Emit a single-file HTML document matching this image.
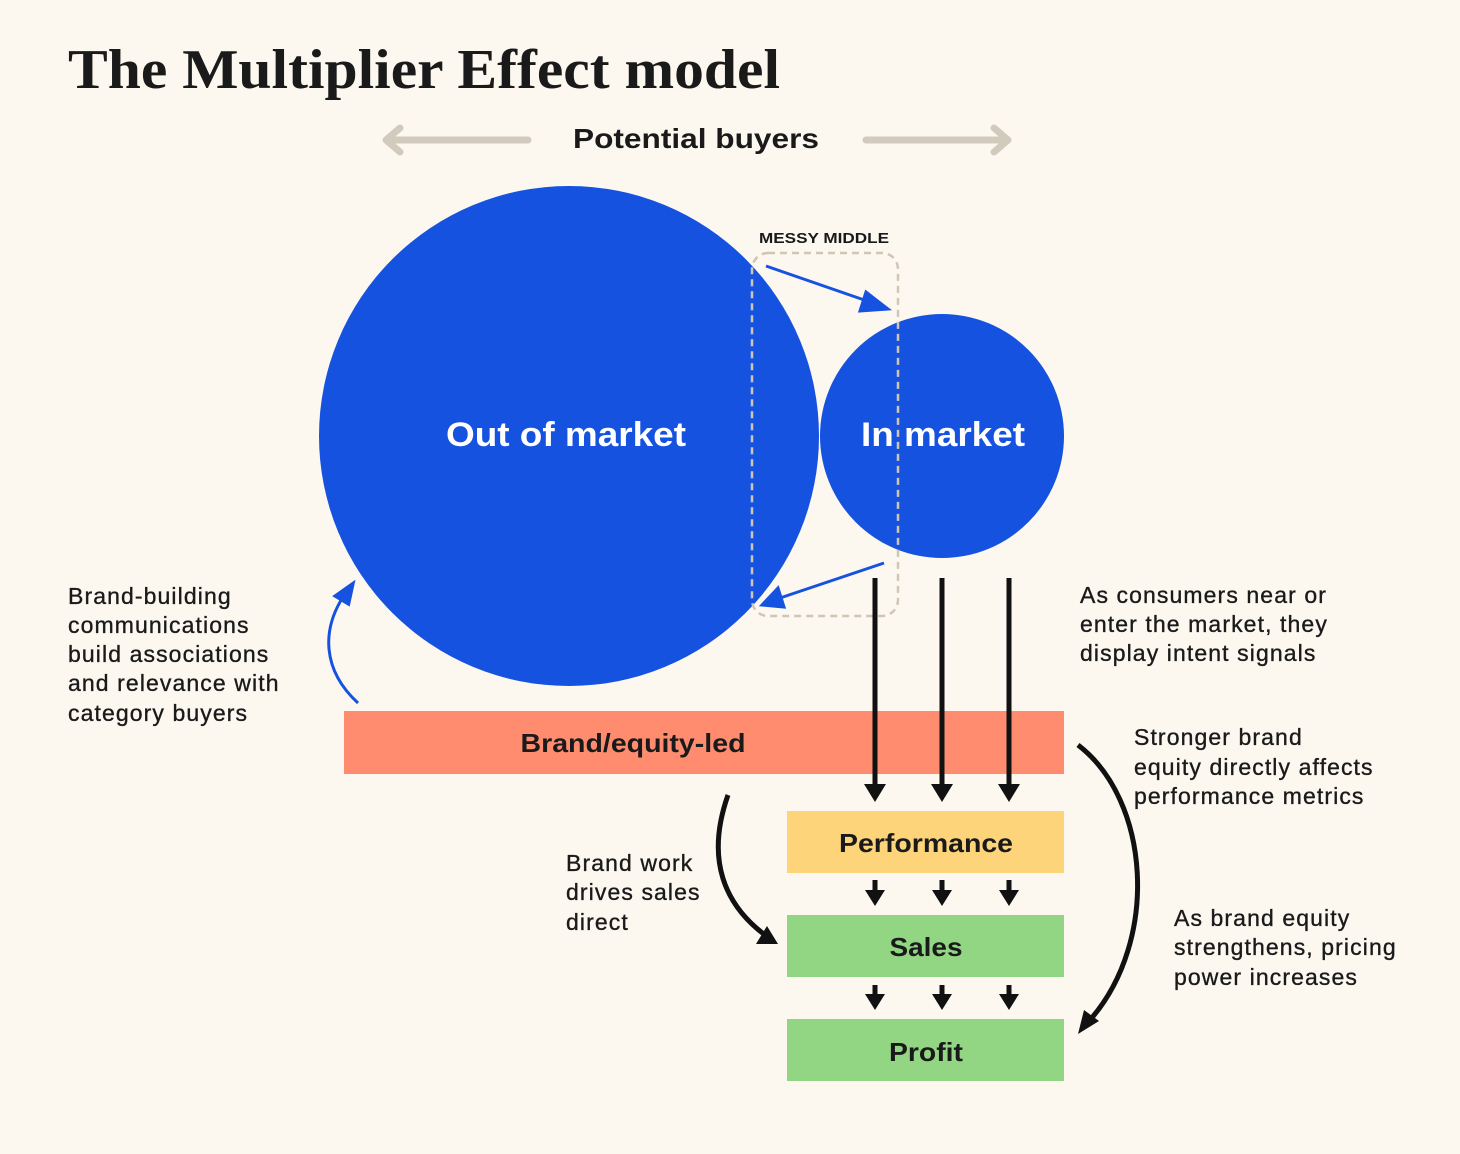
<!DOCTYPE html>
<html><head><meta charset="utf-8"><style>
html,body{margin:0;padding:0;background:#fcf8f0;}
svg{display:block}
text{font-family:"Liberation Sans",sans-serif;fill:#1a1a1a}
.t{letter-spacing:1.1px;stroke:#1a1a1a;stroke-width:0.35px}
</style></head><body>
<svg width="1460" height="1154" viewBox="0 0 1460 1154" xmlns="http://www.w3.org/2000/svg">
<rect width="1460" height="1154" fill="#fcf8f0"/>
<text x="68" y="88" font-size="56" font-weight="bold" textLength="712" lengthAdjust="spacingAndGlyphs" style="font-family:'Liberation Serif',serif">The Multiplier Effect model</text>
<g stroke="#d2cbbd" stroke-width="7" fill="none" stroke-linecap="round" stroke-linejoin="round">
<line x1="388" y1="140" x2="528" y2="140"/><polyline points="400,128 386,140 400,152"/>
<line x1="866" y1="140" x2="1006" y2="140"/><polyline points="994,128 1008,140 994,152"/>
</g>
<text x="696" y="148" font-size="28" font-weight="bold" text-anchor="middle" textLength="246" lengthAdjust="spacingAndGlyphs">Potential buyers</text>
<circle cx="569" cy="436" r="250" fill="#1652e0"/>
<circle cx="942" cy="436" r="122" fill="#1652e0"/>
<text x="566" y="446" font-size="34" font-weight="bold" text-anchor="middle" style="fill:#fff" textLength="240" lengthAdjust="spacingAndGlyphs">Out of market</text>
<text x="943" y="446" font-size="34" font-weight="bold" text-anchor="middle" style="fill:#fff" textLength="164" lengthAdjust="spacingAndGlyphs">In market</text>
<rect x="752" y="253" width="146" height="363" rx="16" fill="none" stroke="#cfc6b6" stroke-width="2.5" stroke-dasharray="7,5"/>
<text x="824" y="243" font-size="15" font-weight="bold" text-anchor="middle" textLength="130" lengthAdjust="spacingAndGlyphs">MESSY MIDDLE</text>
<g stroke="#1652e0" stroke-width="3" fill="#1652e0">
<line x1="766" y1="266" x2="870" y2="302"/><path d="M888,309 L866,292 L860,311 z"/>
<line x1="884" y1="563" x2="780" y2="598"/><path d="M762,605 L778,588 L784,607 z"/>
</g>
<path d="M358,703 C322,670 322,630 343,597" stroke="#1652e0" stroke-width="3" fill="none"/>
<path d="M354,582 L334,596 L349,605 z" fill="#1652e0" stroke="#1652e0" stroke-width="2"/>
<g font-size="23" class="t">
<text x="68" y="604">Brand-building</text>
<text x="68" y="633">communications</text>
<text x="68" y="662">build associations</text>
<text x="68" y="691">and relevance with</text>
<text x="68" y="721">category buyers</text>
</g>
<rect x="344" y="711" width="720" height="63" fill="#ff8c6e"/>
<text x="633" y="752" font-size="26" font-weight="bold" text-anchor="middle" textLength="225" lengthAdjust="spacingAndGlyphs">Brand/equity-led</text>
<rect x="787" y="811" width="277" height="62" fill="#fdd47a"/>
<text x="926" y="852" font-size="26" font-weight="bold" text-anchor="middle" textLength="174" lengthAdjust="spacingAndGlyphs">Performance</text>
<rect x="787" y="915" width="277" height="62" fill="#92d582"/>
<text x="926" y="956" font-size="26" font-weight="bold" text-anchor="middle" textLength="73" lengthAdjust="spacingAndGlyphs">Sales</text>
<rect x="787" y="1019" width="277" height="62" fill="#92d582"/>
<text x="926" y="1061" font-size="26" font-weight="bold" text-anchor="middle" textLength="74" lengthAdjust="spacingAndGlyphs">Profit</text>
<g stroke="#111" stroke-width="5">
<line x1="875" y1="578" x2="875" y2="788"/><line x1="942" y1="578" x2="942" y2="788"/><line x1="1009" y1="578" x2="1009" y2="788"/>
<line x1="875" y1="880" x2="875" y2="894"/><line x1="942" y1="880" x2="942" y2="894"/><line x1="1009" y1="880" x2="1009" y2="894"/>
<line x1="875" y1="985" x2="875" y2="998"/><line x1="942" y1="985" x2="942" y2="998"/><line x1="1009" y1="985" x2="1009" y2="998"/>
</g>
<g fill="#111">
<path d="M864,784 L886,784 L875,802 z"/><path d="M931,784 L953,784 L942,802 z"/><path d="M998,784 L1020,784 L1009,802 z"/>
<path d="M865,890 L885,890 L875,906 z"/><path d="M932,890 L952,890 L942,906 z"/><path d="M999,890 L1019,890 L1009,906 z"/>
<path d="M865,994 L885,994 L875,1010 z"/><path d="M932,994 L952,994 L942,1010 z"/><path d="M999,994 L1019,994 L1009,1010 z"/>
</g>
<path d="M728,795 C705,860 725,905 765,935" stroke="#111" stroke-width="5" fill="none"/>
<path d="M778,944 L756,944 L767,926 z" fill="#111"/>
<path d="M1078,745 C1150,800 1160,940 1090,1020" stroke="#111" stroke-width="5" fill="none"/>
<path d="M1078,1034 L1084,1010 L1099,1021 z" fill="#111"/>
<g font-size="23" class="t">
<text x="1080" y="603">As consumers near or</text>
<text x="1080" y="632">enter the market, they</text>
<text x="1080" y="661">display intent signals</text>
<text x="1134" y="745">Stronger brand</text>
<text x="1134" y="775">equity directly affects</text>
<text x="1134" y="804">performance metrics</text>
<text x="1174" y="926">As brand equity</text>
<text x="1174" y="955">strengthens, pricing</text>
<text x="1174" y="985">power increases</text>
<text x="566" y="871">Brand work</text>
<text x="566" y="900">drives sales</text>
<text x="566" y="930">direct</text>
</g>
</svg>
</body></html>
